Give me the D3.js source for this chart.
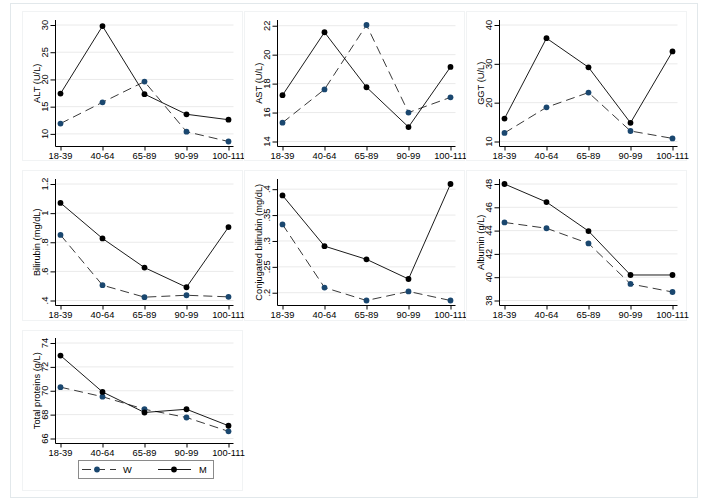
<!DOCTYPE html>
<html>
<head>
<meta charset="utf-8">
<script src="https://cdn.jsdelivr.net/npm/d3@7"></script>
<style>
  body { margin: 0; background: #fff; }
  svg text { font-family: "Liberation Sans", Arial, sans-serif; fill: #000; }
</style>
</head>
<body>
<div id="chart"></div>
<script>
// age groups on every x axis
var ageGroups = ["18-39", "40-64", "65-89", "90-99", "100-111"];

// values, W = women, M = men
var altW = [11.9, 15.8, 19.6, 10.4, 8.6];
var altM = [17.4, 29.8, 17.3, 13.6, 12.6];
var astW = [15.3, 17.6, 22.05, 16.0, 17.05];
var astM = [17.2, 21.55, 17.75, 15.0, 19.15];
var ggtW = [12.2, 18.8, 22.6, 12.7, 10.8];
var ggtM = [15.9, 36.6, 29.1, 14.8, 33.2];
var biliW = [0.85, 0.505, 0.423, 0.436, 0.425];
var biliM = [1.07, 0.826, 0.626, 0.491, 0.904];
var conjW = [0.332, 0.210, 0.185, 0.2025, 0.185];
var conjM = [0.388, 0.290, 0.2645, 0.2265, 0.410];
var albW = [44.7, 44.2, 42.9, 39.42, 38.73];
var albM = [48.0, 46.45, 43.96, 40.19, 40.19];
var protW = [70.3, 69.5, 68.45, 67.76, 66.6];
var protM = [72.95, 69.9, 68.18, 68.45, 67.07];

// y ticks and their labels
var altTicks = [10, 15, 20, 25, 30];
var astTicks = [14, 16, 18, 20, 22];
var ggtTicks = [10, 20, 30, 40];
var biliTicks = [0.4, 0.6, 0.8, 1, 1.2];
var biliLabels = [".4", ".6", ".8", "1", "1.2"];
var conjTicks = [0.2, 0.25, 0.3, 0.35, 0.4];
var conjLabels = [".2", ".25", ".3", ".35", ".4"];
var albTicks = [38, 40, 42, 44, 46, 48];
var protTicks = [66, 68, 70, 72, 74];

var panels = [
  { title: "ALT (U/L)", w: altW, m: altM, ticks: altTicks },
  { title: "AST (U/L)", w: astW, m: astM, ticks: astTicks },
  { title: "GGT (U/L)", w: ggtW, m: ggtM, ticks: ggtTicks },
  { title: "Bilirubin (mg/dL)", w: biliW, m: biliM, ticks: biliTicks, labels: biliLabels },
  { title: "Conjugated bilirubin (mg/dL)", w: conjW, m: conjM, ticks: conjTicks, labels: conjLabels },
  { title: "Albumin (g/L)", w: albW, m: albM, ticks: albTicks },
  { title: "Total proteins (g/L)", w: protW, m: protM, ticks: protTicks }
];

var width = 709, height = 501;
var blue = "#1a476f";
var fs = "9.3px";

var svg = d3.select("#chart").append("svg")
  .attr("width", width)
  .attr("height", height);

// outer graph border
svg.append("rect")
  .attr("x", 10.5).attr("y", 3.5)
  .attr("width", 687).attr("height", 494)
  .attr("fill", "none").attr("stroke", "#e2e8eb");

var panelX = [22, 244, 466];
var panelY = [11, 170, 330];
var panelH = [149, 150, 160];
var axisBottom = [146, 305, 443];
var innerTop = [25, 184, 343];

panels.forEach(function(p, i) {
  var col = i % 3, row = Math.floor(i / 3);
  var g = svg.append("g");

  g.append("rect")
    .attr("x", panelX[col] + 0.5).attr("y", panelY[row] + 0.5)
    .attr("width", 220).attr("height", panelH[row])
    .attr("fill", "#fff").attr("stroke", "#f1f3f4");

  var ax = panelX[col] + 33.5;
  var ab = axisBottom[row] + 0.5;

  var x = d3.scalePoint()
    .domain(ageGroups)
    .range([ax + 5, ax + 173]);

  var all = p.w.concat(p.m, p.ticks);
  var y = d3.scaleLinear()
    .domain(d3.extent(all))
    .range([ab - 5, innerTop[row]]);

  var fmt = function(d, k) { return p.labels ? p.labels[k] : d; };

  // grid lines
  g.selectAll("line.grid").data(p.ticks).enter()
    .append("line")
    .attr("x1", ax).attr("x2", ax + 178)
    .attr("y1", function(d) { return y(d); })
    .attr("y2", function(d) { return y(d); })
    .attr("stroke", "#eaeaea");

  // y axis
  var yAxis = d3.axisLeft(y).tickValues(p.ticks).tickSize(5).tickFormat("");
  var yg = g.append("g").attr("transform", "translate(" + ax + ",0)").call(yAxis);
  yg.select(".domain").remove();
  yg.append("line")
    .attr("x1", 0).attr("x2", 0)
    .attr("y1", innerTop[row] - 5).attr("y2", ab)
    .attr("stroke", "#000");
  yg.selectAll("line").attr("stroke", "#000");

  g.selectAll("text.ytick").data(p.ticks).enter()
    .append("text")
    .attr("transform", function(d) {
      return "translate(" + (ax - 7.5) + "," + y(d) + ") rotate(-90)";
    })
    .attr("text-anchor", "middle")
    .attr("font-size", fs)
    .text(fmt);

  g.append("text")
    .attr("transform", "translate(" + (ax - 16) + "," + ((innerTop[row] - 5 + ab) / 2) + ") rotate(-90)")
    .attr("text-anchor", "middle")
    .attr("font-size", fs)
    .text(p.title);

  // x axis
  var xAxis = d3.axisBottom(x).tickSize(4).tickFormat("");
  var xg = g.append("g").attr("transform", "translate(0," + ab + ")").call(xAxis);
  xg.select(".domain").remove();
  xg.append("line")
    .attr("x1", ax).attr("x2", ax + 178)
    .attr("stroke", "#000");
  xg.selectAll("line").attr("stroke", "#000");

  g.selectAll("text.xtick").data(ageGroups).enter()
    .append("text")
    .attr("x", function(d) { return x(d); })
    .attr("y", ab + 12.5)
    .attr("text-anchor", "middle")
    .attr("font-size", fs)
    .text(function(d) { return d; });

  var line = d3.line()
    .x(function(d, k) { return x(ageGroups[k]); })
    .y(function(d) { return y(d); });

  g.append("path").datum(p.w)
    .attr("d", line)
    .attr("fill", "none")
    .attr("stroke", "#222")
    .attr("stroke-width", 0.9)
    .attr("stroke-dasharray", "9,5");

  g.append("path").datum(p.m)
    .attr("d", line)
    .attr("fill", "none")
    .attr("stroke", "#000")
    .attr("stroke-width", 0.9);

  g.selectAll("circle.w").data(p.w).enter()
    .append("circle")
    .attr("cx", function(d, k) { return x(ageGroups[k]); })
    .attr("cy", function(d) { return y(d); })
    .attr("r", 2.9)
    .attr("fill", blue);

  g.selectAll("circle.m").data(p.m).enter()
    .append("circle")
    .attr("cx", function(d, k) { return x(ageGroups[k]); })
    .attr("cy", function(d) { return y(d); })
    .attr("r", 2.9)
    .attr("fill", "#000");
});

// legend
var leg = svg.append("g");
leg.append("rect")
  .attr("x", 78.5).attr("y", 460.5)
  .attr("width", 135).attr("height", 18)
  .attr("fill", "#fff").attr("stroke", "#8a8a8a");

leg.append("line")
  .attr("x1", 82).attr("x2", 116).attr("y1", 469.5).attr("y2", 469.5)
  .attr("stroke", "#222").attr("stroke-width", 0.9)
  .attr("stroke-dasharray", "9,5");
leg.append("circle").attr("cx", 97).attr("cy", 469.5).attr("r", 2.9).attr("fill", blue);
leg.append("text").attr("x", 123).attr("y", 473).attr("font-size", fs).text("W");

leg.append("line")
  .attr("x1", 158).attr("x2", 191).attr("y1", 469.5).attr("y2", 469.5)
  .attr("stroke", "#000").attr("stroke-width", 0.9);
leg.append("circle").attr("cx", 174).attr("cy", 469.5).attr("r", 2.9).attr("fill", "#000");
leg.append("text").attr("x", 199).attr("y", 473).attr("font-size", fs).text("M");
</script>
</body>
</html>
